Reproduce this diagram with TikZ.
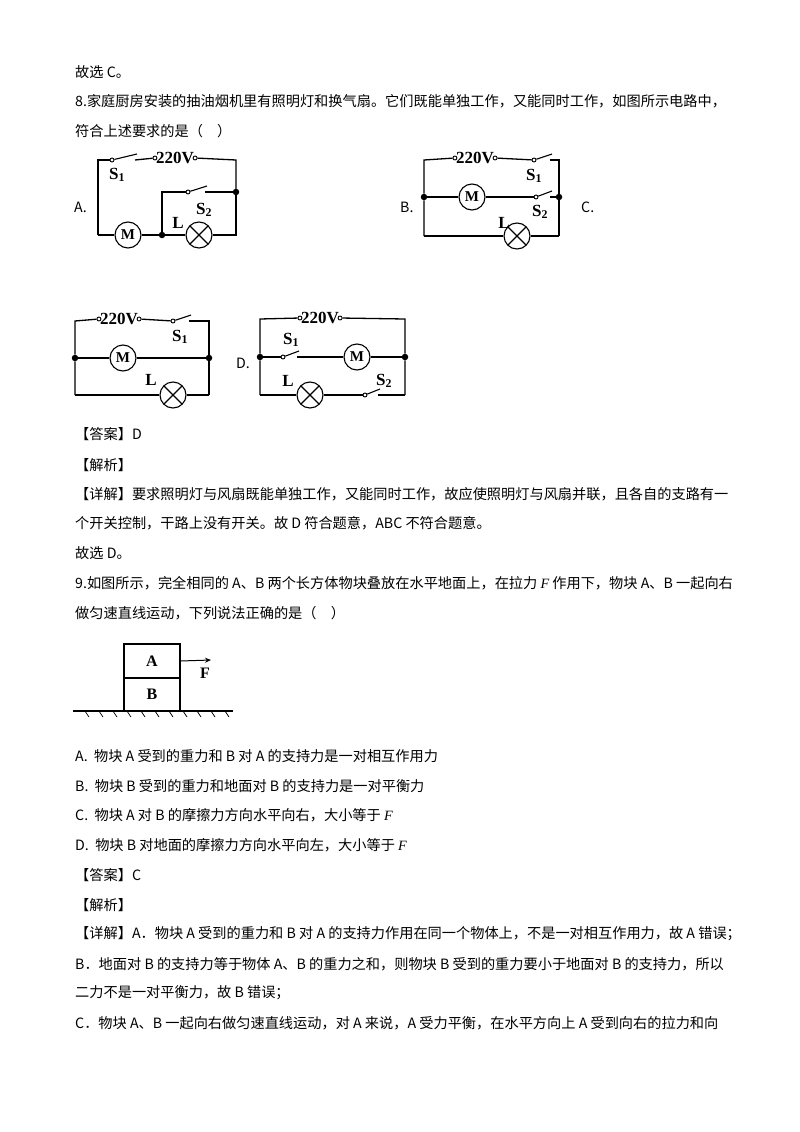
\documentclass[tikz,border=0pt]{standalone}
\usepackage{fontspec}
\usetikzlibrary{calc,arrows.meta}
\setmainfont{Liberation Serif}
\newfontfamily\cjk{Noto Sans CJK SC}
\newcommand{\iF}{{\rmfamily\itshape F}}
\begin{document}
\begin{tikzpicture}[x=1pt,y=-1pt,
  txt/.style={anchor=west,inner sep=0pt,font=\cjk\fontsize{14.2}{16}\selectfont},
  lbl/.style={inner sep=0pt,font=\fontsize{17}{17}\selectfont\bfseries},
  vl/.style={inner sep=1pt,font=\fontsize{17}{17}\selectfont\bfseries},
  w/.style={line width=1.3pt},
  dev/.style={circle,draw,line width=1.1pt,minimum size=26pt,inner sep=0pt,fill=white},
  dot/.style={circle,fill,inner sep=0pt,minimum size=6.5pt},
  term/.style={circle,draw,fill=white,inner sep=0pt,minimum size=4pt,line width=0.9pt}]
\useasboundingbox (0,0) rectangle (800,1132);
\newcommand{\lamp}[3]{\node[dev] (#1) at (#2,#3) {};
  \draw[line width=1.1pt] ($(#1)+(-9,-9)$)--($(#1)+(9,9)$) ($(#1)+(-9,9)$)--($(#1)+(9,-9)$);}
\newcommand{\sw}[4]{\node[term] (#1a) at (#2,#4) {}; \coordinate (#1b) at (#3,#4);
  \draw[line width=1.1pt] (#1a) -- ($(#1b)+(2,-6)$);}
% text
\node[txt] (t1) at (75,72) {故选 C。};
\node[txt] (t2) at (75,101) {8.家庭厨房安装的抽油烟机里有照明灯和换气扇。它们既能单独工作，又能同时工作，如图所示电路中，};
\node[txt] (t3) at (75,131) {符合上述要求的是（\quad ）};
\node[txt] (la) at (74,207) {A.};
\node[txt] (lb) at (400,207) {B.};
\node[txt] (lc) at (581,207) {C.};
\node[txt] (ld) at (236,363) {D.};
% ---- A ----
\node[vl] (va) at (175,158) {220V};
\node[term] (vaL) at (va.west) {}; \node[term] (vaR) at (va.east) {};
\sw{sa1}{112}{135}{160}
\draw[w] (sa1b) -- (vaL); \draw[w] (vaR) -- (236,160) -- (236,192);
\draw[w] (sa1a) -- (98,160) -- (98,235);
\node[dot] (ja1) at (236,192) {}; \node[dot] (ja2) at (162,235) {};
\node[dev] (ma) at (128,235) {\fontsize{15}{15}\selectfont\bfseries M};
\lamp{lamA}{199}{235}
\draw[w] (98,235) -- (ma) -- (ja2) -- (lamA) -- (236,235) -- (ja1);
\sw{sa2}{188}{205}{192}
\draw[w] (ja2) -- (162,192) -- (sa2a); \draw[w] (sa2b) -- (ja1);
\node[lbl] at (117,175) {S\textsubscript{1}};
\node[lbl] at (204,210) {S\textsubscript{2}};
\node[lbl] at (178,223) {L};
% ---- B ----
\node[vl] (vb) at (475,158) {220V};
\node[term] (vbL) at (vb.west) {}; \node[term] (vbR) at (vb.east) {};
\node[dot] (jb1) at (424,197) {}; \node[dot] (jb2) at (559,197) {};
\sw{sb1}{534}{550}{160}
\draw[w] (vbL) -- (424,160) -- (jb1) -- (424,236);
\draw[w] (vbR) -- (sb1a); \draw[w] (sb1b) -- (559,160) -- (jb2) -- (559,236);
\node[dev] (mb) at (472,197) {\fontsize{15}{15}\selectfont\bfseries M};
\sw{sb2}{536}{550}{197}
\draw[w] (jb1) -- (mb) -- (sb2a); \draw[w] (sb2b) -- (jb2);
\lamp{lamB}{517}{236}
\draw[w] (424,236) -- (lamB) -- (559,236);
\node[lbl] at (534,176) {S\textsubscript{1}};
\node[lbl] at (540,212) {S\textsubscript{2}};
\node[lbl] at (504,223) {L};
% ---- C ----
\node[vl] (vc) at (119,319) {220V};
\node[term] (vcL) at (vc.west) {}; \node[term] (vcR) at (vc.east) {};
\node[dot] (jc1) at (75,358) {}; \node[dot] (jc2) at (209,358) {};
\sw{sc1}{173}{189}{321}
\draw[w] (vcL) -- (75,321) -- (jc1) -- (75,395);
\draw[w] (vcR) -- (sc1a); \draw[w] (sc1b) -- (209,321) -- (jc2) -- (209,395);
\node[dev] (mc) at (123,358) {\fontsize{15}{15}\selectfont\bfseries M};
\draw[w] (jc1) -- (mc) -- (jc2);
\lamp{lamC}{173}{395}
\draw[w] (75,395) -- (lamC) -- (209,395);
\node[lbl] at (180,337) {S\textsubscript{1}};
\node[lbl] at (151,380) {L};
% ---- D ----
\node[vl] (vd) at (320,318) {220V};
\node[term] (vdL) at (vd.west) {}; \node[term] (vdR) at (vd.east) {};
\node[dot] (jd1) at (260,357) {}; \node[dot] (jd2) at (405,357) {};
\draw[w] (vdL) -- (260,319) -- (jd1) -- (260,395);
\draw[w] (vdR) -- (405,319) -- (jd2) -- (405,395);
\sw{sd1}{283}{297}{357}
\node[dev] (md) at (357,357) {\fontsize{15}{15}\selectfont\bfseries M};
\draw[w] (jd1) -- (sd1a); \draw[w] (sd1b) -- (md) -- (jd2);
\lamp{lamD}{310}{395}
\sw{sd2}{365}{378}{395}
\draw[w] (260,395) -- (lamD) -- (sd2a); \draw[w] (sd2b) -- (405,395);
\node[lbl] at (291,340) {S\textsubscript{1}};
\node[lbl] at (288,381) {L};
\node[lbl] at (384,381) {S\textsubscript{2}};
% answer 8
\node[txt] (t4) at (75,434) {【答案】D};
\node[txt] (t5) at (75,465) {【解析】};
\node[txt] (t6) at (75,494) {【详解】要求照明灯与风扇既能单独工作，又能同时工作，故应使照明灯与风扇并联，且各自的支路有一};
\node[txt] (t7) at (75,523) {个开关控制，干路上没有开关。故 D 符合题意，ABC 不符合题意。};
\node[txt] (t8) at (75,553) {故选 D。};
\node[txt] (t9) at (75,583) {9.如图所示，完全相同的 A、B 两个长方体物块叠放在水平地面上，在拉力 \iF\ 作用下，物块 A、B 一起向右};
\node[txt] (t10) at (75,613) {做匀速直线运动，下列说法正确的是（\quad ）};
% blocks
\node[draw,line width=1.1pt,minimum width=56pt,minimum height=34pt,inner sep=0pt,font=\fontsize{16}{16}\selectfont\bfseries] (bA) at (152,661) {A};
\node[draw,line width=1.1pt,minimum width=56pt,minimum height=33pt,inner sep=0pt,font=\fontsize{16}{16}\selectfont\bfseries] (bB) at (152,694.5) {B};
\coordinate (g1) at (73,711); \coordinate (g2) at (233,711);
\draw[line width=1.1pt] (g1) -- (g2);
\foreach \x in {88,102,116,130,144,158,172,186,200,214,228}
  \draw[line width=0.7pt] (\x-3,711) -- (\x+1,717);
\coordinate (fa) at (211,660);
\draw[line width=1pt,-{Stealth[length=6pt,width=5pt]}] (bA.east) -- (fa);
\node[lbl,font=\fontsize{16}{16}\selectfont\bfseries] at (205,673) {F};
% options
\node[txt] at (75,756) {A.\ \ 物块 A 受到的重力和 B 对 A 的支持力是一对相互作用力};
\node[txt] at (75,786) {B.\ \ 物块 B 受到的重力和地面对 B 的支持力是一对平衡力};
\node[txt] at (75,815) {C.\ \ 物块 A 对 B 的摩擦力方向水平向右，大小等于 \iF};
\node[txt] at (75,845) {D.\ \ 物块 B 对地面的摩擦力方向水平向左，大小等于 \iF};
\node[txt] at (75,875) {【答案】C};
\node[txt] at (75,905) {【解析】};
\node[txt] at (75,934) {【详解】A．物块 A 受到的重力和 B 对 A 的支持力作用在同一个物体上，不是一对相互作用力，故 A 错误；};
\node[txt] at (75,964) {B．地面对 B 的支持力等于物体 A、B 的重力之和，则物块 B 受到的重力要小于地面对 B 的支持力，所以};
\node[txt] at (75,993) {二力不是一对平衡力，故 B 错误；};
\node[txt] at (75,1023) {C．物块 A、B 一起向右做匀速直线运动，对 A 来说，A 受力平衡，在水平方向上 A 受到向右的拉力和向};
\end{tikzpicture}
\end{document}
